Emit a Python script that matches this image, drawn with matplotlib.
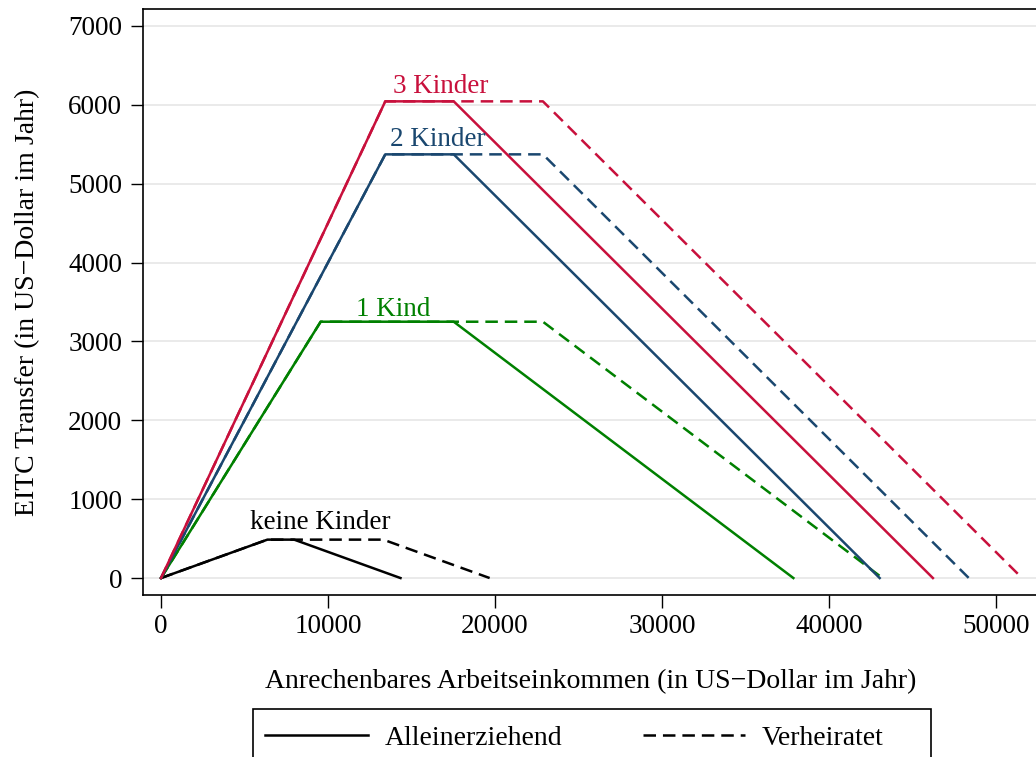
import matplotlib
matplotlib.use("Agg")
import matplotlib.pyplot as plt
from matplotlib.lines import Line2D
from matplotlib.patches import Rectangle

plt.rcParams['font.family'] = ['Liberation Serif', 'DejaVu Serif']
plt.rcParams['lines.scale_dashes'] = False

# EITC schedules (2013), x = earned income, y = transfer
groups = ["keine Kinder", "1 Kind", "2 Kinder", "3 Kinder"]
single_x = {
    "keine Kinder": [0, 6370, 7970, 14340],
    "1 Kind": [0, 9560, 17530, 37870],
    "2 Kinder": [0, 13430, 17530, 43038],
    "3 Kinder": [0, 13430, 17530, 46227],
}
married_x = {
    "keine Kinder": [0, 6370, 13310, 19680],
    "1 Kind": [0, 9560, 22870, 43210],
    "2 Kinder": [0, 13430, 22870, 48378],
    "3 Kinder": [0, 13430, 22870, 51567],
}
max_credit = {"keine Kinder": 487, "1 Kind": 3250, "2 Kinder": 5372, "3 Kinder": 6044}
colors = {"keine Kinder": "black", "1 Kind": "#008000", "2 Kinder": "#1A476F", "3 Kinder": "#C8103C"}
label_pos = {"keine Kinder": (9520, 710), "1 Kind": (13900, 3400),
             "2 Kinder": (16550, 5560), "3 Kinder": (16720, 6230)}

xticks = [0, 10000, 20000, 30000, 40000, 50000]
yticks = [0, 1000, 2000, 3000, 4000, 5000, 6000, 7000]

W, H = 1036, 757
fig = plt.figure(figsize=(W/100, H/100), dpi=100)
ax_w_px = W - 143 + 10
ax_h_px = 595 - 9
ax = fig.add_axes([143/W, 1 - 595/H, ax_w_px/W, ax_h_px/H])

for g in groups:
    m = max_credit[g]
    ys = [0, m, m, 0]
    ax.plot(married_x[g], ys, color=colors[g], lw=1.8, dashes=(9, 5), zorder=3)
    ax.plot(single_x[g], ys, color=colors[g], lw=1.8, zorder=4)
    ax.text(*label_pos[g], g, color=colors[g], fontsize=19.5, ha='center', va='center', zorder=5)

ax.set_xlim(-1080, 53000)
ax.set_ylim(-215, 7215)
ax.set_xticks(xticks)
ax.set_yticks(yticks)
ax.set_xticklabels([str(v) for v in xticks])
ax.set_yticklabels([str(v) for v in yticks])
ax.tick_params(direction='out', length=9, width=1, labelsize=19.5, pad=5)
ax.tick_params(axis='y', pad=6)
ax.yaxis.grid(True, color='#E6E6E6', lw=1.2)
ax.set_axisbelow(True)
for s in ['top', 'left', 'bottom']:
    ax.spines[s].set_linewidth(1.2)
ax.spines['right'].set_visible(False)

ax.set_ylabel("EITC Transfer (in US\u2212Dollar im Jahr)", fontsize=20)
ax.yaxis.set_label_coords(-(143 - 40) / ax_w_px, 0.5)
ax.set_xlabel("Anrechenbares Arbeitseinkommen (in US\u2212Dollar im Jahr)", fontsize=20)
ax.xaxis.set_label_coords((591 - 143) / ax_w_px, -(669 - 595) / ax_h_px)

# legend frame (extends beyond the bottom edge like the reference)
fig.add_artist(Rectangle((253/W, -0.02), (931 - 253)/W, 0.02 + 1 - 709/H,
                         transform=fig.transFigure, facecolor='white',
                         edgecolor='black', lw=1.2, zorder=1))
handles = [Line2D([], [], color='black', lw=1.8),
           Line2D([], [], color='black', lw=1.8, dashes=(9, 5))]
leg = fig.legend(handles, ["Alleinerziehend", "Verheiratet"], ncol=2,
                 loc='center left', bbox_to_anchor=(265/W, 1 - 738/H),
                 frameon=False, fontsize=20,
                 handlelength=3.7, columnspacing=2.9, handletextpad=0.6,
                 borderpad=0, borderaxespad=0)
leg.set_zorder(2)

fig.savefig("out.png", dpi=100)
